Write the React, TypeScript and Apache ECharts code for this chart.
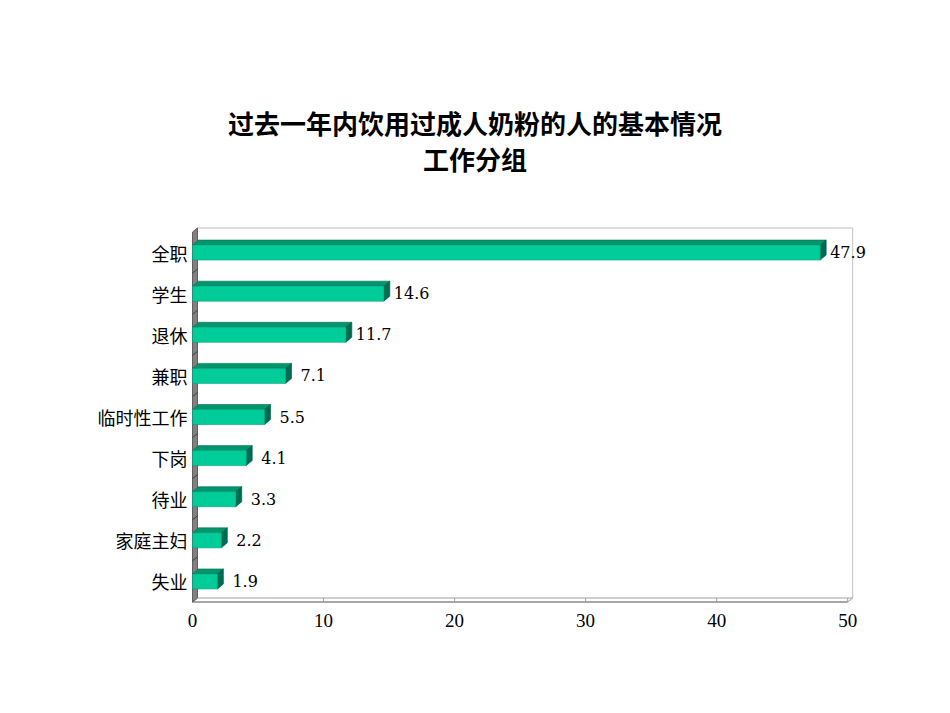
import React, { useEffect, useRef } from 'react';
import * as echarts from 'echarts';

const titleLine1 = '过去一年内饮用过成人奶粉的人的基本情况';
const titleLine2 = '工作分组';
const categories = ['全职', '学生', '退休', '兼职', '临时性工作', '下岗', '待业', '家庭主妇', '失业'];
const shares = [47.9, 14.6, 11.7, 7.1, 5.5, 4.1, 3.3, 2.2, 1.9];
const axisMin = 0;
const axisMax = 50;
const axisStep = 10;

// 3D depth offsets (pixels) for bars and the wall/floor
const BAR_DX = 6;
const BAR_DY = 5;
const WALL_DX = 5;
const WALL_DY = 4;
const BAR_H = 15;

const titleStyle = {
  fontFamily: 'Noto Sans CJK SC',
  fontWeight: 'bold',
  fontSize: 26,
  lineHeight: 26,
  color: '#000',
};

const App: React.FC = () => {
  const chartRef = useRef<HTMLDivElement>(null);

  useEffect(() => {
    document.body.style.margin = '0';
    if (!chartRef.current) return;
    const chart = echarts.init(chartRef.current, undefined, { renderer: 'svg' });

    const option: any = {
      animation: false,
      backgroundColor: '#ffffff',
      title: {
        text: titleLine1,
        subtext: titleLine2,
        left: 'center',
        top: 109,
        padding: 0,
        itemGap: 10,
        textStyle: titleStyle,
        subtextStyle: titleStyle,
      },
      grid: { left: 192.5, right: 102.3, top: 232, bottom: 111 },
      xAxis: {
        type: 'value',
        min: axisMin,
        max: axisMax,
        interval: axisStep,
        axisLine: { show: false },
        axisTick: { show: false },
        splitLine: { show: false },
        axisLabel: {
          margin: 9,
          fontFamily: 'Liberation Serif',
          fontSize: 19,
          color: '#000',
        },
      },
      yAxis: {
        type: 'category',
        data: categories,
        inverse: true,
        axisLine: { show: false },
        axisTick: { show: false },
        splitLine: { show: false },
        axisLabel: {
          margin: 5,
          fontFamily: 'Noto Sans CJK SC',
          fontSize: 18,
          color: '#000',
        },
      },
      series: [
        {
          // walls and floor
          type: 'custom',
          z: 1,
          silent: true,
          data: [[0, 0]],
          renderItem: (params: any, api: any) => {
            const cs = params.coordSys;
            const x = cs.x;
            const y = cs.y;
            const w = cs.width;
            const h = cs.height;
            const band = api.size([0, 1])[1];
            const children: any[] = [];
            // back wall outline
            children.push({
              type: 'polyline',
              shape: {
                points: [
                  [x + WALL_DX, y + h - WALL_DY],
                  [x + WALL_DX, y - WALL_DY],
                  [x + w + WALL_DX, y - WALL_DY],
                  [x + w + WALL_DX, y + h - WALL_DY],
                ],
              },
              style: { fill: 'none', stroke: '#c0c0c0', lineWidth: 1 },
            });
            // floor
            children.push({
              type: 'polygon',
              shape: {
                points: [
                  [x, y + h],
                  [x + w, y + h],
                  [x + w + WALL_DX, y + h - WALL_DY],
                  [x + WALL_DX, y + h - WALL_DY],
                ],
              },
              style: { fill: '#ffffff', stroke: '#a0a0a0', lineWidth: 1 },
            });
            children.push({
              type: 'line',
              shape: { x1: x, y1: y + h, x2: x + w, y2: y + h },
              style: { stroke: '#808080', lineWidth: 1.2 },
            });
            for (let v = axisMin; v <= axisMax; v += axisStep) {
              const px = api.coord([v, 0])[0];
              children.push({
                type: 'line',
                shape: { x1: px, y1: y + h, x2: px, y2: y + h - WALL_DY },
                style: { stroke: '#a0a0a0', lineWidth: 1 },
              });
            }
            // left wall
            children.push({
              type: 'polygon',
              shape: {
                points: [
                  [x, y],
                  [x + WALL_DX, y - WALL_DY],
                  [x + WALL_DX, y + h - WALL_DY],
                  [x, y + h],
                ],
              },
              style: { fill: '#808080', stroke: '#606060', lineWidth: 1 },
            });
            for (let k = 1; k < categories.length; k++) {
              const py = y + k * band;
              children.push({
                type: 'line',
                shape: { x1: x, y1: py, x2: x + WALL_DX, y2: py - WALL_DY },
                style: { stroke: '#404040', lineWidth: 1 },
              });
            }
            return { type: 'group', children };
          },
        },
        {
          type: 'custom',
          z: 2,
          data: shares.map((v, i) => [v, i]),
          encode: { x: 0, y: 1 },
          renderItem: (_params: any, api: any) => {
            const v = api.value(0);
            const i = api.value(1);
            const p0 = api.coord([0, i]);
            const p1 = api.coord([v, i]);
            const top = p0[1] - BAR_H / 2;
            const bot = p0[1] + BAR_H / 2;
            // single-digit labels sit a little further out, as in the original
            const gap = v < 10 ? 9 : 4;
            return {
              type: 'group',
              children: [
                {
                  type: 'polygon',
                  shape: {
                    points: [
                      [p0[0], top],
                      [p1[0], top],
                      [p1[0] + BAR_DX, top - BAR_DY],
                      [p0[0] + BAR_DX, top - BAR_DY],
                    ],
                  },
                  style: { fill: '#00956d', stroke: '#00704f', lineWidth: 0.6 },
                },
                {
                  type: 'polygon',
                  shape: {
                    points: [
                      [p1[0], top],
                      [p1[0] + BAR_DX, top - BAR_DY],
                      [p1[0] + BAR_DX, bot - BAR_DY],
                      [p1[0], bot],
                    ],
                  },
                  style: { fill: '#006b52', stroke: '#005540', lineWidth: 0.6 },
                },
                {
                  type: 'rect',
                  shape: { x: p0[0], y: top, width: p1[0] - p0[0], height: BAR_H },
                  style: { fill: '#00cc99', stroke: '#00a07a', lineWidth: 0.6 },
                },
                {
                  type: 'text',
                  x: p1[0] + BAR_DX + gap,
                  y: p0[1],
                  style: {
                    text: v.toFixed(1),
                    fontFamily: 'DejaVu Serif',
                    fontSize: 16,
                    fill: '#000',
                    align: 'left',
                    verticalAlign: 'middle',
                  },
                },
              ],
            };
          },
        },
      ],
    };

    chart.setOption(option);
    return () => {
      chart.dispose();
    };
  }, []);

  return <div ref={chartRef} style={{ width: '950px', height: '713px' }} />;
};

export default App;
